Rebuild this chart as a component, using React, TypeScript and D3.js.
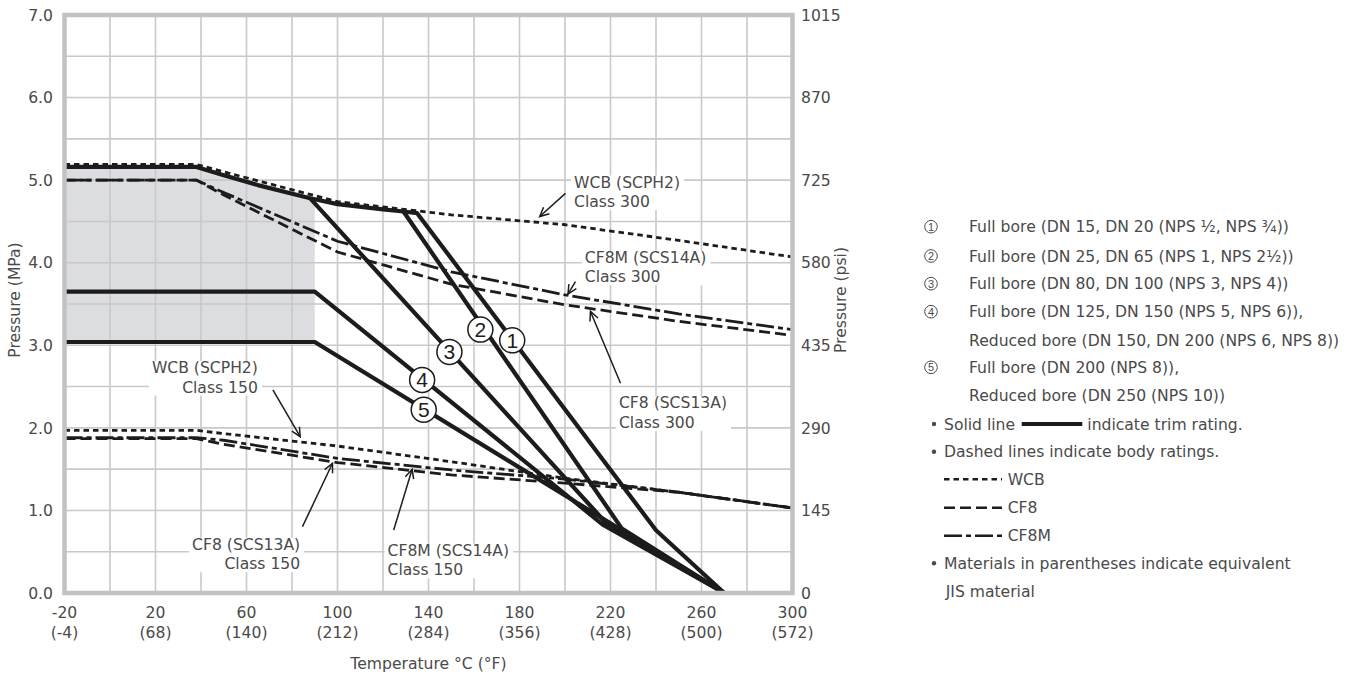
import React, { useLayoutEffect, useRef, useState } from 'react';
import * as d3 from 'd3';

const W = 1359;
const H = 675;

// ---- axis ticks ----
const tempTicks = [-20, 20, 60, 100, 140, 180, 220, 260, 300];
const tempTickF = ['(-4)', '(68)', '(140)', '(212)', '(284)', '(356)', '(428)', '(500)', '(572)'];
const mpaTicks = [0, 1, 2, 3, 4, 5, 6, 7];
const mpaTickLabels = ['0.0', '1.0', '2.0', '3.0', '4.0', '5.0', '6.0', '7.0'];
const psiTickLabels = ['0', '145', '290', '435', '580', '725', '870', '1015'];

// ---- body ratings (MPa) ----
const bodyTemps = [-20, 38, 50, 100, 150, 200, 250, 300];
const wcb300 = [5.19, 5.19, 5.1, 4.74, 4.58, 4.46, 4.27, 4.07];
const cf8300 = [5.0, 5.0, 4.82, 4.13, 3.74, 3.49, 3.29, 3.12];
const cf8m300 = [5.0, 5.0, 4.85, 4.26, 3.89, 3.61, 3.38, 3.19];
const wcb150 = [1.97, 1.97, 1.93, 1.78, 1.59, 1.39, 1.22, 1.03];
const cf8150 = [1.87, 1.87, 1.8, 1.58, 1.43, 1.33, 1.22, 1.03];
const cf8m150 = [1.88, 1.88, 1.85, 1.63, 1.49, 1.38, 1.22, 1.03];

// ---- trim ratings (MPa) ----
const trimTopT = [-20, 38, 50, 65, 88, 100, 120, 129, 135];
const trimTopP = [5.16, 5.16, 5.06, 4.94, 4.78, 4.71, 4.645, 4.62, 4.6];
const trim1T = [240, 270];
const trim1P = [0.76, 0];
const trim2T = [129, 225, 270];
const trim2P = [4.62, 0.78, 0];
const trim3T = [88, 219, 270];
const trim3P = [4.78, 0.82, 0];
const trim4T = [-20, 90, 217, 270];
const trim4P = [3.65, 3.65, 0.82, 0];
const trim5T = [-20, 90, 270];
const trim5P = [3.04, 3.04, 0];
const shadeEndT = 90;

// circled number markers on the trim lines
const markerNums = ['1', '2', '3', '4', '5'];
const markerT = [176.8, 162.8, 149.2, 137.2, 137.9];
const markerP = [3.06, 3.19, 2.92, 2.58, 2.22];

// annotations
const annoLines = [
  ['WCB (SCPH2)', 'Class 300'],
  ['CF8M (SCS14A)', 'Class 300'],
  ['CF8 (SCS13A)', 'Class 300'],
  ['WCB (SCPH2)', 'Class 150'],
  ['CF8 (SCS13A)', 'Class 150'],
  ['CF8M (SCS14A)', 'Class 150'],
];
const annoT = [204, 208.7, 223.7, 65.0, 83.6, 122.0];
const annoP = [4.91, 4.0, 2.236, 2.664, 0.524, 0.452];
const annoAnchor = ['start', 'start', 'start', 'end', 'end', 'start'];
const arrowFrom = [[200.2, 4.84], [204.6, 3.77], [224.4, 2.54], [71.6, 2.46], [84.6, 0.803], [124.7, 0.763]];
const arrowTo = [[188.9, 4.56], [201.3, 3.62], [211.2, 3.41], [83.6, 1.893], [97.8, 1.571], [132.8, 1.498]];

// legend
const legendNums = ['1', '2', '3', '4', '5'];
const legendText = [
  ['Full bore (DN 15, DN 20 (NPS ½, NPS ¾))'],
  ['Full bore (DN 25, DN 65 (NPS 1, NPS 2½))'],
  ['Full bore (DN 80, DN 100 (NPS 3, NPS 4))'],
  ['Full bore (DN 125, DN 150 (NPS 5, NPS 6)),', 'Reduced bore (DN 150, DN 200 (NPS 6, NPS 8))'],
  ['Full bore (DN 200 (NPS 8)),', 'Reduced bore (DN 250 (NPS 10))'],
];

const FONT = "'DejaVu Sans', Roboto, sans-serif";
const FS = 15.6;
const TXT = '#4a4a4a';
const INK = '#1c1c1c';
const DASH_WCB = '5.5 4';
const DASH_CF8 = '11 5';
const DASH_CF8M = '18 4 5 4';

const zip = (t: number[], p: number[]): [number, number][] => t.map((v, i) => [v, p[i]]);

export default function App() {
  const x = d3.scaleLinear().domain([-20, 300]).range([64.5, 792.5]);
  const y = d3.scaleLinear().domain([0, 7]).range([593, 15]);
  const line = d3.line<[number, number]>().x(d => x(d[0])).y(d => y(d[1]));

  const refs = useRef<(SVGTextElement | null)[]>([]);
  const [boxes, setBoxes] = useState<({ x: number; y: number; w: number; h: number } | null)[]>([]);
  useLayoutEffect(() => {
    const b = refs.current.map(el => {
      if (!el) return null;
      const bb = el.getBBox();
      return { x: bb.x, y: bb.y, w: bb.width, h: bb.height };
    });
    setBoxes(b);
  }, []);

  const top = zip(trimTopT, trimTopP);
  const topAtEnd = d3.scaleLinear().domain([88, 100]).range([4.78, 4.71])(shadeEndT);
  const shade: [number, number][] = [
    ...top.filter(d => d[0] <= 88),
    [shadeEndT, topAtEnd],
    [shadeEndT, trim5P[0]],
    [-20, trim5P[0]],
  ];

  const vGrid = d3.range(0, 300, 20);
  const hGrid = d3.range(0.5, 7, 0.5);

  const bodies: { t: number[]; p: number[]; dash: string }[] = [
    { t: bodyTemps, p: cf8300, dash: DASH_CF8 },
    { t: bodyTemps, p: cf8m300, dash: DASH_CF8M },
    { t: bodyTemps, p: cf8150, dash: DASH_CF8 },
    { t: bodyTemps, p: cf8m150, dash: DASH_CF8M },
    { t: bodyTemps, p: wcb150, dash: DASH_WCB },
  ];

  const trims: [number, number][][] = [
    [...top, ...zip(trim1T, trim1P)],
    zip(trim2T, trim2P),
    zip(trim3T, trim3P),
    zip(trim4T, trim4P),
    zip(trim5T, trim5P),
  ];

  const arrowHead = (x1: number, y1: number, x2: number, y2: number) => {
    const a = Math.atan2(y2 - y1, x2 - x1);
    const L = 10;
    const s = 0.45;
    const p1 = [x2 - L * Math.cos(a - s), y2 - L * Math.sin(a - s)];
    const p2 = [x2 - L * Math.cos(a + s), y2 - L * Math.sin(a + s)];
    return `M${p1[0]},${p1[1]}L${x2},${y2}L${p2[0]},${p2[1]}`;
  };

  const legendRowY = [226.7, 256, 283.7, 311.7, 367.3];

  return (
    <svg width={W} height={H} style={{ position: 'absolute', left: 0, top: 0, background: '#fff' }} fontFamily={FONT}>
      {/* shaded region */}
      <path d={line(shade) + 'Z'} fill="#dcdde0" />
      {/* grid */}
      <g stroke="#c9c9c9" strokeWidth={1.6}>
        {vGrid.map(t => <line key={'v' + t} x1={x(t)} x2={x(t)} y1={y(7)} y2={y(0)} />)}
        {hGrid.map(p => <line key={'h' + p} x1={x(-20)} x2={x(300)} y1={y(p)} y2={y(p)} />)}
      </g>
      {/* annotation backgrounds */}
      {boxes.map((b, i) => b && (
        <rect key={'bx' + i} x={b.x - 3} y={b.y + 2} width={b.w + 7} height={b.h - 3} fill="#fff" />
      ))}
      {/* body ratings */}
      <g fill="none" stroke={INK} strokeWidth={2.8}>
        {bodies.map((b, i) => (
          <path key={'b' + i} d={line(zip(b.t, b.p)) || ''} strokeDasharray={b.dash} />
        ))}
      </g>
      {/* trim ratings */}
      <g fill="none" stroke={INK} strokeWidth={4.2} strokeLinejoin="round">
        {trims.map((d, i) => <path key={'t' + i} d={line(d) || ''} />)}
      </g>
      {/* WCB class 300 dotted over the trim line */}
      <path d={line(zip(bodyTemps, wcb300)) || ''} fill="none" stroke={INK} strokeWidth={2.8} strokeDasharray={DASH_WCB} />
      {/* arrows */}
      <g fill="none" stroke={INK} strokeWidth={1.5}>
        {arrowFrom.map((f, i) => {
          const x1 = x(f[0]), y1 = y(f[1]), x2 = x(arrowTo[i][0]), y2 = y(arrowTo[i][1]);
          return (
            <g key={'a' + i}>
              <line x1={x1} y1={y1} x2={x2} y2={y2} />
              <path d={arrowHead(x1, y1, x2, y2)} />
            </g>
          );
        })}
      </g>
      {/* annotation texts */}
      {annoLines.map((ls, i) => (
        <text
          key={'an' + i}
          ref={el => { refs.current[i] = el; }}
          x={x(annoT[i])}
          y={y(annoP[i])}
          fontSize={FS}
          fill={TXT}
          textAnchor={annoAnchor[i] as any}
        >
          {ls.map((s, j) => (
            <tspan key={j} x={x(annoT[i])} dy={j === 0 ? 0 : 19.5}>{s}</tspan>
          ))}
        </text>
      ))}
      {/* circled markers */}
      {markerNums.map((n, i) => (
        <g key={'m' + i} transform={`translate(${x(markerT[i])},${y(markerP[i])})`}>
          <circle r={12.5} fill="#fff" stroke={INK} strokeWidth={1.5} />
          <text y={7.5} textAnchor="middle" fontSize={21} fill={INK} fontFamily="'Liberation Sans', Arial, sans-serif">{n}</text>
        </g>
      ))}
      {/* frame */}
      <rect x={x(-20)} y={y(7)} width={x(300) - x(-20)} height={y(0) - y(7)} fill="none" stroke="#c2c2c2" strokeWidth={4.5} />
      {/* ticks and titles */}
      <g fontSize={FS} fill={TXT}>
        {mpaTicks.map((p, i) => (
          <text key={'l' + p} x={53} y={y(p) + 5.7} textAnchor="end">{mpaTickLabels[i]}</text>
        ))}
        {mpaTicks.map((p, i) => (
          <text key={'r' + p} x={801} y={y(p) + 5.7}>{psiTickLabels[i]}</text>
        ))}
        {tempTicks.map((t, i) => (
          <g key={'x' + t}>
            <text x={x(t)} y={618.4} textAnchor="middle">{String(t)}</text>
            <text x={x(t)} y={638} textAnchor="middle">{tempTickF[i]}</text>
          </g>
        ))}
        <text x={(x(-20) + x(300)) / 2} y={669} textAnchor="middle">Temperature °C (°F)</text>
        <text transform={`translate(19.5,300) rotate(-90)`} textAnchor="middle">Pressure (MPa)</text>
        <text transform={`translate(846,300) rotate(-90)`} textAnchor="middle">Pressure (psi)</text>
      </g>
      {/* legend */}
      <g fontSize={FS} fill={TXT}>
        {legendNums.map((n, i) => (
          <g key={'lg' + i}>
            <circle cx={931} cy={legendRowY[i]} r={6.3} fill="none" stroke={TXT} strokeWidth={1} />
            <text x={931} y={legendRowY[i] + 4} textAnchor="middle" fontSize={11} fontFamily="'Liberation Sans', Arial, sans-serif">{n}</text>
            {legendText[i].map((s, j) => (
              <text key={j} x={969} y={legendRowY[i] + 5.7 + j * 28.2}>{s}</text>
            ))}
          </g>
        ))}
        <circle cx={934} cy={424} r={2.2} />
        <text x={944} y={429.7}>Solid line</text>
        <line x1={1021.7} x2={1082.3} y1={424} y2={424} stroke={INK} strokeWidth={4.2} />
        <text x={1087.3} y={429.7}>indicate trim rating.</text>
        <circle cx={934} cy={451.7} r={2.2} />
        <text x={944} y={457.4}>Dashed lines indicate body ratings.</text>
        <line x1={944} x2={1002} y1={479.3} y2={479.3} stroke={INK} strokeWidth={2.4} strokeDasharray={DASH_WCB} />
        <text x={1007.7} y={485}>WCB</text>
        <line x1={944} x2={1002} y1={507.7} y2={507.7} stroke={INK} strokeWidth={2.4} strokeDasharray={DASH_CF8} />
        <text x={1007.7} y={513.4}>CF8</text>
        <line x1={944} x2={1002} y1={535.7} y2={535.7} stroke={INK} strokeWidth={2.4} strokeDasharray={DASH_CF8M} />
        <text x={1007.7} y={541.4}>CF8M</text>
        <circle cx={934} cy={563.3} r={2.2} />
        <text x={944} y={569}>Materials in parentheses indicate equivalent</text>
        <text x={945.7} y={597.4}>JIS material</text>
      </g>
    </svg>
  );
}
